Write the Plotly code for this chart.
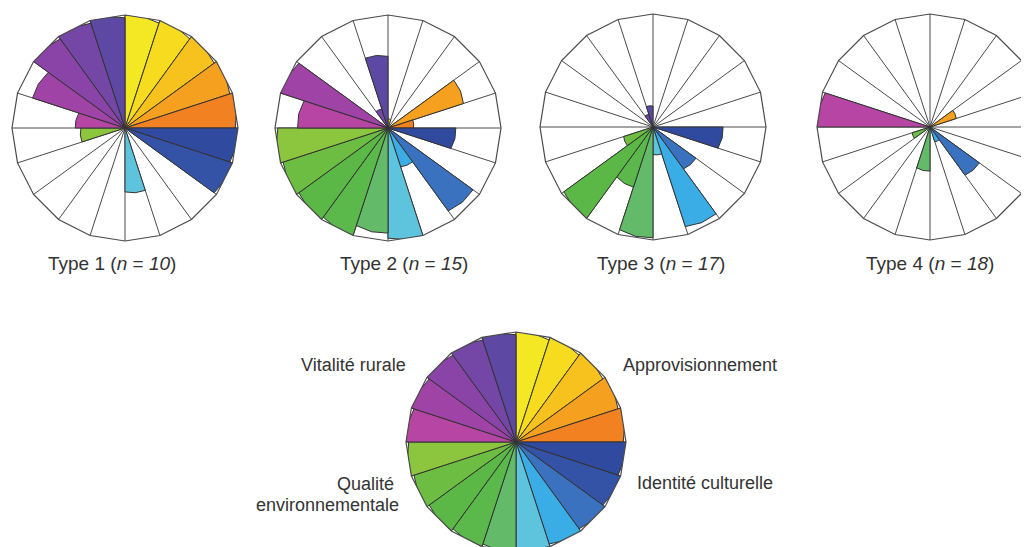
import plotly.graph_objects as go

# 20 sub-services, grouped in 4 bundles (clockwise from north)
categories = ["A1", "A2", "A3", "A4", "A5",      # Approvisionnement
              "I1", "I2", "I3", "I4", "I5",      # Identité culturelle
              "Q1", "Q2", "Q3", "Q4", "Q5",      # Qualité environnementale
              "V1", "V2", "V3", "V4", "V5"]      # Vitalité rurale

sector_colors = ["#f4e723", "#f7db1f", "#f8c21e", "#f6a020", "#f28121",
                 "#2f4a9e", "#3452a6", "#3a72c0", "#3aade6", "#5ec4dd",
                 "#63ba68", "#5bb84a", "#5bb746", "#6cbd42", "#8cc63e",
                 "#b645a3", "#a043a6", "#8a44a7", "#7446a5", "#5d49a3"]

type1 = [1.00, 1.00, 1.00, 1.00, 1.00, 1.00, 1.00, 0.00, 0.00, 0.58,
         0.00, 0.00, 0.00, 0.00, 0.40, 0.44, 0.86, 1.00, 1.00, 1.00]
type2 = [0.08, 0.00, 0.00, 0.72, 0.23, 0.60, 0.00, 0.93, 0.37, 1.00,
         0.93, 1.00, 1.00, 1.00, 1.00, 0.80, 1.00, 0.00, 0.18, 0.65]
type3 = [0.00, 0.00, 0.00, 0.00, 0.00, 0.62, 0.00, 0.47, 0.95, 0.25,
         0.98, 0.56, 1.00, 0.28, 0.00, 0.00, 0.00, 0.00, 0.12, 0.19]
type4 = [0.00, 0.00, 0.00, 0.25, 0.00, 0.00, 0.00, 0.54, 0.14, 0.00,
         0.39, 0.00, 0.00, 0.17, 0.00, 1.00, 0.00, 0.00, 0.00, 0.00]
legend_wheel = [1.0] * 20

type_labels = ["Type 1 (<i>n</i> = <i>10</i>)", "Type 2 (<i>n</i> = <i>15</i>)",
               "Type 3 (<i>n</i> = <i>17</i>)", "Type 4 (<i>n</i> = <i>18</i>)"]

# the page puts the figure 8 px in from the window corner; the reference
# is a crop, so the figure is a little larger than the window
OFF = 8
W, H = 1045, 560

# wheel geometry in window pixels: (center x, center y from top, radius)
wheels = [(125, 128, 113), (388, 128, 113), (653, 127, 113), (930, 127, 113),
          (516, 442, 110)]
series = [type1, type2, type3, type4, legend_wheel]


def px(x):
    return (x - OFF) / W


def py(y):
    return 1 - (y - OFF) / H


def domain(cx, cy, r):
    return dict(x=[px(cx - r), px(cx + r)], y=[py(cy + r), py(cy - r)])


fig = go.Figure()
layout_polars = {}
for k, (vals, (cx, cy, r)) in enumerate(zip(series, wheels)):
    name = "polar" if k == 0 else f"polar{k + 1}"
    fig.add_trace(go.Barpolar(
        r=vals, theta=categories, subplot=name,
        marker=dict(color=sector_colors, line=dict(color="#333333", width=1)),
        showlegend=False, hoverinfo="theta+r"))
    fig.add_trace(go.Scatterpolar(
        r=[0], theta=[categories[0]], subplot=name, mode="markers",
        marker=dict(color="#111111", size=7), showlegend=False, hoverinfo="skip"))
    layout_polars[name] = dict(
        domain=domain(cx, cy, r),
        bgcolor="white",
        gridshape="linear",
        bargap=0,
        angularaxis=dict(type="category", categoryorder="array", categoryarray=categories,
                         direction="clockwise", rotation=81,
                         tickmode="array", tickvals=[i + 0.5 for i in range(20)],
                         showticklabels=False, ticks="",
                         showgrid=True, gridcolor="#4a4a4a", gridwidth=1,
                         showline=True, linecolor="#4a4a4a", linewidth=1.2),
        radialaxis=dict(visible=False, range=[0, 1]),
    )

fig.update_layout(**layout_polars)

font = dict(family="Liberation Sans, Arial, sans-serif", size=19, color="#333333")
ann = []
for txt, xc in zip(type_labels, [112, 404, 661, 930]):
    ann.append(dict(text=txt, x=px(xc), y=py(264), xanchor="center", font=font))
font2 = dict(family="Liberation Sans, Arial, sans-serif", size=18, color="#333333")
ann += [
    dict(text="Vitalité rurale", x=px(408), y=py(365), xanchor="right", font=font2),
    dict(text="Approvisionnement", x=px(621), y=py(365), xanchor="left", font=font2),
    dict(text="Qualité", x=px(396), y=py(484), xanchor="right", font=font2),
    dict(text="environnementale", x=px(401), y=py(505), xanchor="right", font=font2),
    dict(text="Identité culturelle", x=px(635), y=py(483), xanchor="left", font=font2),
]
for a in ann:
    a.update(xref="paper", yref="paper", yanchor="middle", showarrow=False)

fig.update_layout(width=W, height=H, margin=dict(l=0, r=0, t=0, b=0),
                  paper_bgcolor="white", plot_bgcolor="white", annotations=ann)

fig.write_html("out.html")
